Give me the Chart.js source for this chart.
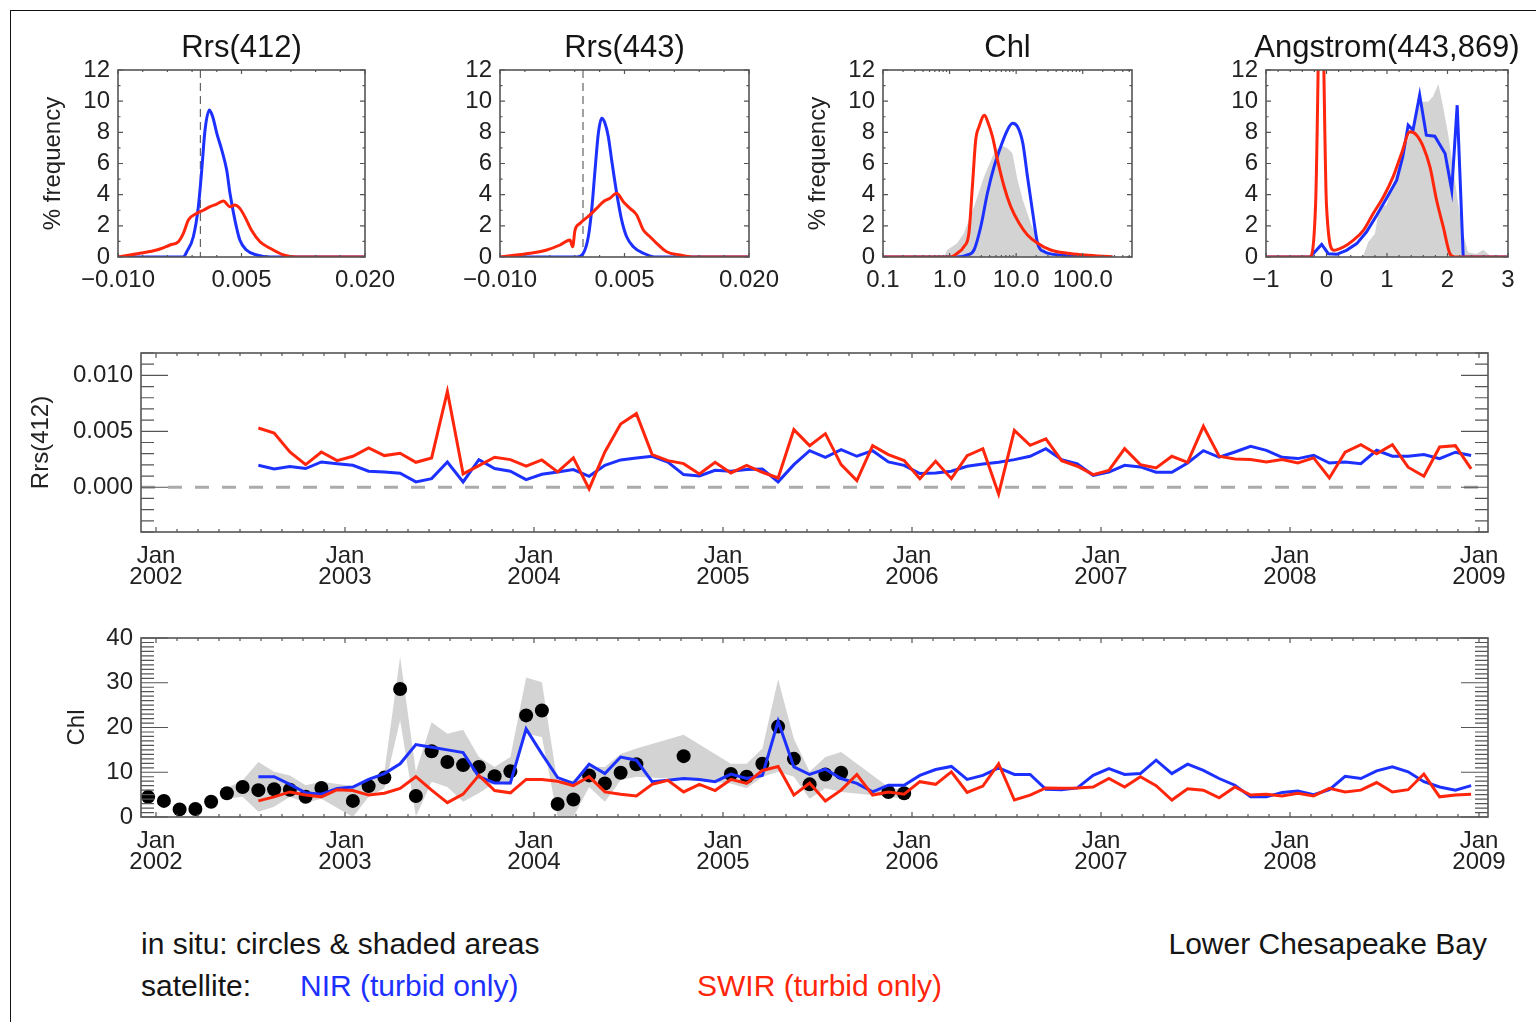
<!DOCTYPE html>
<html>
<head>
<meta charset="utf-8">
<title>Lower Chesapeake Bay</title>
<script src="https://cdn.jsdelivr.net/npm/chart.js@4.4.1/dist/chart.umd.min.js"></script>
<style>
  body { margin: 0; background: #fff; width: 1536px; height: 1022px; position: relative; overflow: hidden;
         font-family: "Liberation Sans", Arial, sans-serif; }
  .frame { position: absolute; left: 10px; top: 10px; right: 0; bottom: 0;
           border-left: 1.5px solid #111; border-top: 1.5px solid #111; }
  canvas { position: absolute; }
  .note { position: absolute; font-size: 30px; line-height: 1; color: #151515; white-space: nowrap; }
</style>
</head>
<body>
<div class="frame"></div>
<canvas id="h412"></canvas>
<canvas id="h443"></canvas>
<canvas id="hchl"></canvas>
<canvas id="hang"></canvas>
<canvas id="tsRrs"></canvas>
<canvas id="tsChl"></canvas>

<div class="note" style="left:141px; top:929px;">in situ: circles &amp; shaded areas</div>
<div class="note" style="right:49px; top:929px;">Lower Chesapeake Bay</div>
<div class="note" style="left:141px; top:971px;">satellite:</div>
<div class="note" style="left:300px; top:971px; color:rgb(28,48,255);">NIR (turbid only)</div>
<div class="note" style="left:697px; top:971px; color:rgb(255,38,12);">SWIR (turbid only)</div>

<script>
// ---- histograms (% frequency) ----
// Rrs bins are in units of 1e-3 sr^-1
const r412NirBin  = [-10, -2.06, -1.65, -0.85, -0.24, 0.17, 0.57, 1.1, 1.5, 2.0, 2.6, 3.2, 3.6, 4.2, 4.8, 5.6, 6.85, 8.5, 20];
const r412NirPct  = [0, 0, 0.34, 1.3, 3.23, 5.58, 8.15, 9.43, 9.0, 7.94, 6.87, 5.58, 4.09, 2.37, 1.09, 0.45, 0.13, 0, 0];
const r412SwirBin = [-10, -7.33, -5.3, -3.68, -2.67, -2.06, -1.45, -0.44, 0.37, 1.18, 1.99, 2.8, 3.6, 4.2, 4.8, 5.4, 6.2, 7.25, 8.47, 10.1, 11.7, 20];
const r412SwirPct = [0, 0.24, 0.45, 0.77, 0.98, 1.52, 2.37, 2.8, 3.0, 3.23, 3.4, 3.59, 3.23, 3.34, 3.12, 2.59, 1.73, 0.98, 0.56, 0.13, 0, 0];

const r443NirBin  = [-10, -0.76, 0.04, 0.64, 1.04, 1.45, 1.85, 2.25, 2.65, 3.05, 3.45, 4.06, 4.66, 5.26, 6.06, 7.27, 8.87, 20];
const r443NirPct  = [0, 0, 0.24, 1.3, 3.0, 5.58, 7.94, 8.9, 8.58, 7.72, 6.23, 4.09, 2.37, 1.3, 0.66, 0.24, 0, 0];
const r443SwirBin = [-10, -6.39, -4.37, -2.77, -1.57, -1.25, -0.96, -0.36, 0.84, 1.64, 2.45, 3.25, 4.06, 4.86, 5.66, 6.47, 7.27, 8.07, 8.87, 10.08, 11.69, 13.29, 20];
const r443SwirPct = [0, 0.24, 0.45, 0.77, 1.09, 0.66, 1.73, 2.16, 2.7, 3.12, 3.55, 3.77, 4.09, 3.55, 3.12, 2.7, 1.73, 1.3, 0.88, 0.34, 0.13, 0, 0];

const chlInsituBin = [0.82, 0.92, 1.3, 1.64, 2.33, 3.29, 4.65, 5.87, 7.4, 8.8, 10.5, 12.6, 16.6, 21, 29.7, 37];
const chlInsituPct = [0, 0.45, 0.88, 1.52, 3.23, 5.15, 6.66, 7.19, 6.98, 6.66, 4.94, 3.66, 2.16, 1.09, 0.24, 0];
const chlNirBin  = [0.1, 1.31, 1.85, 2.33, 2.94, 3.7, 4.66, 5.87, 7.41, 8.81, 10.5, 12.6, 14.8, 17.8, 21, 26.5, 47, 106, 280];
const chlNirPct  = [0, 0, 0.13, 0.45, 1.94, 4.09, 5.8, 7.08, 8.15, 8.58, 8.36, 7.3, 5.15, 2.8, 0.88, 0.34, 0.13, 0, 0];
const chlSwirBin = [0.1, 1.03, 1.31, 1.64, 1.95, 2.2, 2.47, 2.77, 3.35, 3.8, 4.41, 5.24, 6.6, 8.3, 11.1, 14.8, 21, 33, 59, 107, 280];
const chlSwirPct = [0, 0, 0.24, 0.66, 1.52, 4.51, 7.51, 8.36, 9.1, 8.6, 7.72, 6.23, 4.51, 3.23, 2.16, 1.41, 0.88, 0.45, 0.24, 0.13, 0];

const angInsituBin = [0.55, 0.61, 0.69, 0.8, 0.88, 0.99, 1.1, 1.21, 1.32, 1.43, 1.54, 1.68, 1.76, 1.85, 1.93, 2.01, 2.09, 2.17, 2.26, 2.34, 2.48, 2.59, 2.7, 2.78];
const angInsituPct = [0, 0.1, 0.96, 1.5, 3.3, 3.3, 4.7, 6.0, 7.3, 8.35, 9.96, 9.96, 10.3, 11.1, 9.6, 7.9, 5.8, 3.6, 1.5, 0.3, 0.2, 0.47, 0.1, 0];
const angNirBin  = [-1, -0.27, -0.08, 0.03, 0.17, 0.33, 0.5, 0.66, 0.83, 0.99, 1.16, 1.26, 1.35, 1.43, 1.54, 1.65, 1.79, 1.96, 2.07, 2.16, 2.26, 3];
const angNirPct  = [0, 0, 0.81, 0.21, 0.17, 0.43, 0.86, 1.6, 2.68, 3.75, 4.93, 6.42, 8.46, 8.14, 10.39, 7.82, 7.75, 6.64, 4.28, 9.74, 0, 0];
const angSwirBin = [-1, -0.28, -0.18, -0.09, 0.0, 0.12, 0.28, 0.44, 0.61, 0.77, 0.94, 1.1, 1.24, 1.38, 1.49, 1.6, 1.71, 1.82, 1.93, 2.04, 2.12, 3];
const angSwirPct = [0, 0, 3.4, 20, 3.3, 0.43, 0.64, 1.07, 1.71, 2.78, 3.85, 5.14, 6.64, 8.03, 7.82, 7.07, 5.78, 3.64, 1.93, 0.21, 0, 0];

// ---- monthly time series ----
const SAT_START = [2002, 7];      // Jul 2002 .. Dec 2008
// Rrs(412), units of 1e-3 sr^-1
const rrsNir = [
  1.96, 1.64, 1.85, 1.67, 2.26, 2.11,
  1.96, 1.43, 1.37, 1.25, 0.48, 0.77, 2.26, 0.48, 2.47, 1.67, 1.43, 0.68,
  1.16, 1.37, 1.58, 0.98, 1.96, 2.44, 2.62, 2.77, 2.26, 1.13, 1.01, 1.52,
  1.43, 1.58, 1.64, 0.48, 2.02, 3.27, 2.68, 3.36, 2.77, 3.27, 2.26, 1.96,
  1.22, 1.28, 1.43, 1.88, 2.08, 2.23, 2.47, 2.77, 3.45, 2.47, 2.08, 1.07,
  1.35, 1.96, 1.82, 1.34, 1.34, 2.17, 3.27, 2.68, 3.15, 3.66, 3.30, 2.68,
  2.56, 2.86, 2.17, 2.26, 2.11, 3.30, 2.77, 2.77, 2.92, 2.56, 3.13, 2.83
];
const rrsSwir = [
  5.30, 4.85, 3.15, 2.02, 3.15, 2.38,
  2.77, 3.51, 2.83, 3.04, 2.23, 2.62, 8.57, 1.19, 1.93, 2.68, 2.47, 1.88,
  2.44, 1.37, 2.62, -0.15, 3.15, 5.65, 6.58, 2.92, 2.38, 2.11, 1.19, 2.23,
  1.28, 1.96, 1.34, 0.83, 5.15, 3.72, 4.79, 2.02, 0.60, 3.72, 2.92, 2.38,
  0.77, 2.32, 0.77, 2.83, 3.45, -0.60, 5.09, 3.75, 4.32, 2.38, 1.88, 1.13,
  1.50, 3.45, 2.02, 1.73, 2.77, 2.23, 5.45, 2.77, 2.53, 2.47, 2.26, 2.47,
  2.17, 2.62, 0.83, 3.13, 3.81, 3.00, 3.81, 1.79, 0.98, 3.60, 3.72, 1.64
];
const chlNir = [
  9.0, 9.0, 7.3, 5.4, 5.1, 6.4,
  6.7, 8.4, 9.7, 11.9, 16.2, 15.6, 15.0, 14.4, 9.0, 7.6, 7.6, 19.7,
  14.1, 8.8, 7.5, 11.8, 9.7, 13.4, 12.7, 7.9, 8.2, 8.6, 8.4, 7.9,
  9.6, 8.6, 9.3, 21.4, 11.2, 9.5, 10.7, 8.6, 7.5, 5.6, 7.1, 7.1,
  9.3, 10.6, 11.3, 8.4, 9.3, 11.0, 9.5, 9.5, 6.2, 6.1, 6.5, 9.3,
  10.8, 9.5, 9.7, 12.7, 9.7, 11.8, 10.4, 8.6, 7.1, 4.5, 4.5, 5.5,
  5.8, 5.0, 6.1, 9.1, 8.6, 10.3, 11.2, 10.1, 7.9, 6.7, 6.0, 7.0
];
const chlSwir = [
  3.6, 4.5, 5.6, 4.9, 4.5, 6.1,
  5.9, 4.9, 5.3, 6.4, 9.0, 6.0, 3.2, 5.1, 9.3, 5.9, 5.4, 8.4,
  8.4, 8.0, 7.0, 9.0, 5.6, 5.1, 4.7, 7.3, 8.2, 5.6, 7.3, 5.9,
  8.4, 7.5, 10.4, 11.3, 4.9, 7.6, 3.6, 6.0, 9.5, 4.9, 5.6, 5.1,
  7.9, 7.3, 10.1, 5.5, 6.9, 11.9, 3.8, 4.9, 6.5, 6.4, 6.5, 6.7,
  8.6, 6.7, 9.0, 7.0, 3.8, 6.3, 6.0, 4.3, 6.7, 4.9, 5.1, 4.7,
  5.3, 4.7, 6.4, 5.6, 6.0, 7.7, 5.6, 6.1, 9.6, 4.5, 4.9, 5.1
];

const INSITU_START = [2001, 12];  // Dec 2001 .. Dec 2005
const chlInsitu = [
  4.5,
  3.6, 1.7, 1.8, 3.4, 5.3, 6.7, 6.0, 6.2, 6.1, 4.5, 6.5, null,
  3.6, 6.9, 8.8, 28.6, 4.7, 14.7, 12.3, 11.6, 11.2, 9.1, 10.2, 22.7,
  23.8, 2.9, 3.9, 9.3, 7.5, 9.9, 11.8, null, null, 13.6, null, null,
  9.6, 9.0, 11.9, 20.2, 13.0, 7.3, 9.5, 9.9, null, null, 5.6, 5.3
];
const chlInsituMax = [
  null,
  null, null, null, null, 6.4, 8.2, 12.3, 10.1, 9.3, 7.1, 7.9, null,
  6.9, 8.4, 10.1, 35.8, 10.1, 21.2, 18.6, 19.5, 13.4, 11.2, 13.4, 31.2,
  30.1, 7.5, 8.2, 11.2, 11.2, 14.1, 15.3, null, null, 18.4, null, null,
  11.9, 11.9, 15.3, 30.8, 17.5, 10.1, 13.4, 14.5, null, null, 6.7, 6.0
];
const chlInsituMin = [
  null,
  null, null, null, null, 4.1, 4.5, 1.2, 2.3, 4.5, 3.2, 4.1, null,
  0.0, 4.5, 6.4, 21.6, 0.1, 7.9, 6.7, 3.4, 5.3, 7.6, 7.1, 18.6,
  17.9, 0.0, 0.0, 6.7, 3.4, 8.2, 9.0, null, null, 8.4, null, null,
  7.5, 6.4, 9.0, 10.1, 9.0, 4.1, 6.4, 5.6, null, null, 4.5, 4.1
];

const YEARS = [2002, 2003, 2004, 2005, 2006, 2007, 2008, 2009];

// ---- helpers ----
const blue = 'rgb(28, 48, 255)';
const red = 'rgb(255, 38, 12)';
const grey = 'rgb(211, 211, 211)';
const ink = '#222';

Chart.defaults.font.family = '"Liberation Sans", Arial, sans-serif';
Chart.defaults.color = ink;

const xy = (xs, ys, k = 1) => xs.map((x, i) => ({ x: x * k, y: ys[i] }));
const monthly = ([y0, m0], vals, k = 1) =>
  vals.map((v, i) => (v === null ? null : { x: y0 + (m0 - 1 + i + 0.5) / 12, y: v * k })).filter(p => p);
const steps = (from, to, step) => {
  const out = [];
  for (let v = from; v <= to + step / 1e6; v += step) out.push(+v.toFixed(6));
  return out;
};
const minus = s => s.replace('-', '\u2212');

const curve = (data, color, order, smooth = true) => ({
  data, borderColor: color, borderWidth: 3, pointRadius: 0, fill: false, order,
  cubicInterpolationMode: smooth ? 'monotone' : 'default', tension: 0
});
const shade = (data, fill = 'origin') => ({
  data, borderWidth: 0, borderColor: 'transparent', pointRadius: 0, backgroundColor: grey, fill, order: 9
});

// box with inward ticks on all four sides, dashed reference lines and panel title
const frameTicks = {
  id: 'frameTicks',
  beforeDatasetsDraw(chart, args, o) {
    const { ctx, chartArea: a, scales } = chart;
    (o.refLines || []).forEach(r => {
      ctx.save();
      ctx.strokeStyle = r.color;
      ctx.lineWidth = r.width;
      ctx.setLineDash(r.dash);
      ctx.beginPath();
      if (r.axis === 'y') {
        const p = scales.y.getPixelForValue(r.value);
        ctx.moveTo(a.left, p); ctx.lineTo(a.right, p);
      } else {
        const p = scales.x.getPixelForValue(r.value);
        ctx.moveTo(p, a.top); ctx.lineTo(p, a.bottom);
      }
      ctx.stroke();
      ctx.restore();
    });
  },
  afterDatasetsDraw(chart, args, o) {
    const { ctx, chartArea: a, scales } = chart;
    ctx.save();
    ctx.strokeStyle = '#555';
    ctx.lineWidth = 1.2;
    ctx.beginPath();
    const xMarks = (vals, len) => vals.forEach(v => {
      const p = scales.x.getPixelForValue(v);
      if (p < a.left - 0.5 || p > a.right + 0.5) return;
      ctx.moveTo(p, a.bottom); ctx.lineTo(p, a.bottom - len);
      ctx.moveTo(p, a.top); ctx.lineTo(p, a.top + len);
    });
    const yMarks = (vals, len) => vals.forEach(v => {
      const p = scales.y.getPixelForValue(v);
      if (p < a.top - 0.5 || p > a.bottom + 0.5) return;
      ctx.moveTo(a.left, p); ctx.lineTo(a.left + len, p);
      ctx.moveTo(a.right, p); ctx.lineTo(a.right - len, p);
    });
    xMarks(o.xMajor, o.xLen[0]);
    xMarks(o.xMinor, o.xLen[1]);
    yMarks(o.yMajor, o.yLen[0]);
    yMarks(o.yMinor, o.yLen[1]);
    ctx.stroke();
    ctx.lineWidth = 1.6;
    ctx.strokeRect(a.left, a.top, a.right - a.left, a.bottom - a.top);
    if (o.title) {
      ctx.fillStyle = '#151515';
      ctx.font = '31px "Liberation Sans", Arial, sans-serif';
      ctx.textAlign = 'center';
      ctx.textBaseline = 'middle';
      ctx.fillText(o.title, (a.left + a.right) / 2, a.top - 22);
    }
    ctx.restore();
  }
};
Chart.register(frameTicks);

// area = plot box in page pixels, margin = [left, top, right, bottom] room around it
function panel(id, area, margin, p) {
  const cv = document.getElementById(id);
  cv.width = area.r - area.l + margin[0] + margin[2];
  cv.height = area.b - area.t + margin[1] + margin[3];
  cv.style.left = (area.l - margin[0]) + 'px';
  cv.style.top = (area.t - margin[1]) + 'px';
  const tickFont = { size: 24 };
  return new Chart(cv, {
    type: 'line',
    data: { datasets: p.datasets },
    options: {
      responsive: false,
      animation: false,
      events: [],
      layout: { padding: { left: 0, top: margin[1], right: margin[2], bottom: 0 } },
      plugins: {
        legend: { display: false },
        tooltip: { enabled: false },
        frameTicks: p.frame
      },
      scales: {
        x: Object.assign({
          type: 'linear',
          grid: { display: false, drawTicks: false },
          border: { display: false },
          afterFit: s => { s.height = margin[3]; },
          afterBuildTicks: s => { s.ticks = p.xTicks.map(v => ({ value: v })); },
          ticks: Object.assign({ autoSkip: false, maxRotation: 0, minRotation: 0, padding: 9, font: tickFont, callback: p.xLabel }, p.xTickOpts || {})
        }, p.x),
        y: {
          type: 'linear',
          min: p.y.min, max: p.y.max,
          grid: { display: false, drawTicks: false },
          border: { display: false },
          afterFit: s => { s.width = margin[0]; },
          afterBuildTicks: s => { s.ticks = p.yTicks.map(v => ({ value: v })); },
          ticks: { autoSkip: false, padding: 8, font: tickFont, callback: p.yLabel },
          title: p.yTitle
            ? { display: true, text: p.yTitle, font: { size: 24 }, color: ink, padding: { top: p.yTitlePad, bottom: 0 } }
            : { display: false }
        }
      }
    }
  });
}

const HIST_Y = [0, 2, 4, 6, 8, 10, 12];
const histY = { min: 0, max: 12 };
const histFrame = (title, xMajor, xMinor, refLines) => ({
  title, xMajor, xMinor, refLines,
  yMajor: HIST_Y, yMinor: steps(0, 12, 1),
  xLen: [4, 2], yLen: [5, 2.5]
});
const rrsX = { min: -0.01, max: 0.02 };
const rrsLabel = v => minus(v.toFixed(3));
const zeroDash = [{ axis: 'x', value: 0, color: '#444', width: 1, dash: [8, 5] }];

panel('h412', { l: 118, t: 70, r: 365, b: 257 }, [98, 60, 45, 58], {
  datasets: [
    curve(xy(r412SwirBin, r412SwirPct, 1e-3), red, 1),
    curve(xy(r412NirBin, r412NirPct, 1e-3), blue, 2)
  ],
  x: rrsX, xTicks: [-0.01, 0.005, 0.02], xLabel: rrsLabel,
  y: histY, yTicks: HIST_Y, yLabel: v => String(v),
  yTitle: '% frequency', yTitlePad: 19,
  frame: histFrame('Rrs(412)', [-0.01, 0.005, 0.02], steps(-0.01, 0.02, 0.003), zeroDash)
});

panel('h443', { l: 500, t: 70, r: 749, b: 257 }, [98, 60, 45, 58], {
  datasets: [
    curve(xy(r443SwirBin, r443SwirPct, 1e-3), red, 1),
    curve(xy(r443NirBin, r443NirPct, 1e-3), blue, 2)
  ],
  x: rrsX, xTicks: [-0.01, 0.005, 0.02], xLabel: rrsLabel,
  y: histY, yTicks: HIST_Y, yLabel: v => String(v),
  frame: histFrame('Rrs(443)', [-0.01, 0.005, 0.02], steps(-0.01, 0.02, 0.003), zeroDash)
});

const logMinor = [];
[0.1, 1, 10, 100].forEach(d => { for (let k = 2; k <= 9; k++) logMinor.push(d * k); });
panel('hchl', { l: 883, t: 70, r: 1132, b: 257 }, [98, 60, 45, 58], {
  datasets: [
    shade(xy(chlInsituBin, chlInsituPct)),
    curve(xy(chlSwirBin, chlSwirPct), red, 1),
    curve(xy(chlNirBin, chlNirPct), blue, 2)
  ],
  x: { type: 'logarithmic', min: 0.1, max: 550 }, xTicks: [0.1, 1, 10, 100], xLabel: v => v.toFixed(1),
  y: histY, yTicks: HIST_Y, yLabel: v => String(v),
  yTitle: '% frequency', yTitlePad: 19,
  frame: histFrame('Chl', [0.1, 1, 10, 100], logMinor, [])
});

panel('hang', { l: 1266, t: 70, r: 1508, b: 257 }, [98, 60, 28, 58], {
  datasets: [
    shade(xy(angInsituBin, angInsituPct)),
    curve(xy(angSwirBin, angSwirPct), red, 1),
    curve(xy(angNirBin, angNirPct), blue, 2, false)
  ],
  x: { min: -1, max: 3 }, xTicks: [-1, 0, 1, 2, 3], xLabel: v => minus(String(v)),
  y: histY, yTicks: HIST_Y, yLabel: v => String(v),
  frame: histFrame('Angstrom(443,869)', [-1, 0, 1, 2, 3], steps(-1, 3, 0.2), [])
});

// time axis: one year = 189 px, Jan 2002 sits 15 px inside the left edge
const timeX = { min: 2002 - 15 / 189, max: 2009 + 9 / 189 };
const timeTickOpts = { padding: 14, font: { size: 24, lineHeight: 0.875 } };
const timeLabel = v => ['Jan', String(v)];
const timeMinor = steps(2001, 2010, 1 / 9);

panel('tsRrs', { l: 141, t: 353, r: 1488, b: 532 }, [126, 25, 48, 78], {
  datasets: [
    curve(monthly(SAT_START, rrsSwir, 1e-3), red, 1, false),
    curve(monthly(SAT_START, rrsNir, 1e-3), blue, 2, false)
  ],
  x: timeX, xTicks: YEARS, xLabel: timeLabel, xTickOpts: timeTickOpts,
  y: { min: -0.004, max: 0.012 }, yTicks: [0, 0.005, 0.01], yLabel: v => v.toFixed(3),
  yTitle: 'Rrs(412)', yTitlePad: 12,
  frame: {
    xMajor: YEARS, xMinor: timeMinor, xLen: [5, 3],
    yMajor: [-0.005, 0, 0.005, 0.01], yMinor: steps(-0.004, 0.012, 0.001), yLen: [27, 13],
    refLines: [{ axis: 'y', value: 0, color: '#ababab', width: 3, dash: [14, 13] }]
  }
});

panel('tsChl', { l: 141, t: 638, r: 1488, b: 817 }, [126, 25, 48, 70], {
  datasets: [
    shade(monthly(INSITU_START, chlInsituMax), '+1'),
    shade(monthly(INSITU_START, chlInsituMin), false),
    {
      data: monthly(INSITU_START, chlInsitu), showLine: false, order: 3,
      pointRadius: 7, pointBackgroundColor: '#000', pointBorderWidth: 0
    },
    curve(monthly(SAT_START, chlSwir), red, 1, false),
    curve(monthly(SAT_START, chlNir), blue, 2, false)
  ],
  x: timeX, xTicks: YEARS, xLabel: timeLabel, xTickOpts: timeTickOpts,
  y: { min: 0, max: 40 }, yTicks: [0, 10, 20, 30, 40], yLabel: v => String(v),
  yTitle: 'Chl', yTitlePad: 48,
  frame: {
    xMajor: YEARS, xMinor: timeMinor, xLen: [5, 3],
    yMajor: [0, 10, 20, 30, 40], yMinor: steps(0, 40, 1), yLen: [27, 13],
    refLines: []
  }
});
</script>
</body>
</html>
